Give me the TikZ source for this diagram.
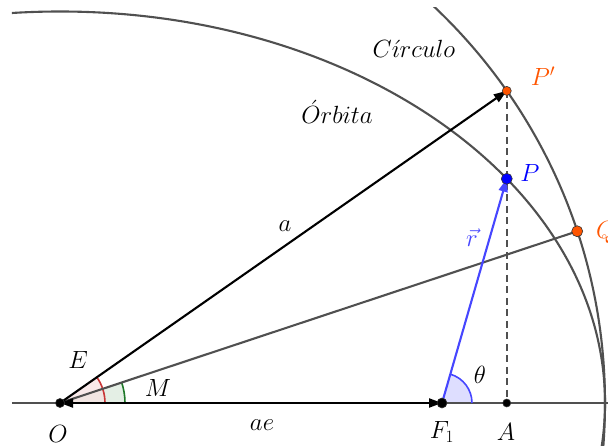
\documentclass[tikz,border=0pt]{standalone}
\usetikzlibrary{arrows.meta,calc}
\definecolor{dgray}{RGB}{80,80,80}
\definecolor{vblue}{RGB}{70,70,255}
\definecolor{orng}{RGB}{255,85,0}
\definecolor{ered}{RGB}{200,55,55}
\definecolor{mgreen}{RGB}{30,120,40}
\begin{document}
\begin{tikzpicture}[x=1pt,y=1pt,font=\fontsize{25}{29}\selectfont,
  curve/.style={draw=dgray,line width=2.1pt},
  axisline/.style={draw=dgray,line width=1.7pt},
  vecline/.style={line width=2.1pt,-{Triangle[length=13pt,width=9pt]}},
  pt/.style={circle,draw=black!80,line width=0.6pt,inner sep=0pt,minimum size=#1},
  pt/.default=8pt,
  lbl/.style={inner sep=1pt}]
\useasboundingbox (-60,-42) rectangle (548,403);
\coordinate (O) at (0,0);
\coordinate (F1) at (382,0);
\coordinate (Pp) at (34.94:545);
\coordinate (P) at ({545*cos(34.94)},{391.5*sin(34.94)});
\coordinate (Q) at (18.37:545);
\coordinate (A) at (Pp |- O);
\coordinate (L) at (-48,0);
\coordinate (R) at (548,0);
% angle fills
\fill[mgreen!15,opacity=0.8] (O) -- (65,0) arc[start angle=0,end angle=18.37,radius=65] -- cycle;
\fill[ered!15,opacity=0.7] (O) -- (45,0) arc[start angle=0,end angle=34.94,radius=45] -- cycle;
\fill[vblue!18] (F1) -- ++(30,0) arc[start angle=0,end angle=73.6,radius=30] -- cycle;
% curves
\begin{scope}
\clip (-48,-42) rectangle (548,395);
\draw[curve] (O) ellipse [x radius=545, y radius=391.5];
\draw[curve] (O) circle [radius=545];
\end{scope}
\draw[axisline] (L) -- (R);
% angle arcs
\draw[ered,line width=1.6pt] (45,0) arc[start angle=0,end angle=34.94,radius=45];
\draw[mgreen,line width=1.6pt] (65,0) arc[start angle=0,end angle=18.37,radius=65];
\draw[vblue,line width=1.6pt] ($(F1)+(30,0)$) arc[start angle=0,end angle=73.6,radius=30];
% lines
\draw[dgray,line width=1.9pt,dash pattern=on 7pt off 4.5pt] (Pp) -- (A);
\draw[dgray,line width=2.1pt] (O) -- (Q);
\draw[vecline,black] (O) -- (Pp);
\draw[line width=2.1pt,black,{Triangle[length=13pt,width=9pt]}-{Triangle[length=13pt,width=9pt]}] (O) -- (F1);
\draw[vecline,vblue] (F1) -- (P);
% points
\node[pt=9pt,fill=black] (nO) at (O) {};
\node[pt=10pt,fill=black] (nF) at (F1) {};
\node[pt=8pt,fill=black] (nA) at (A) {};
\node[pt=9pt,fill=orng] (nPp) at (Pp) {};
\node[pt=11pt,fill=blue] (nP) at (P) {};
\node[pt=11pt,fill=orng] (nQ) at (Q) {};
% labels
\node[lbl] (tE) at (18,43) {$E$};
\node[lbl] (tM) at (98,15) {$M$};
\node[lbl] (tO) at (-2,-31) {$O$};
\node[lbl] (tae) at (202,-22) {$ae$};
\node[lbl] (tF) at (382,-29) {$F_1$};
\node[lbl] (tA) at (446,-29) {$A$};
\node[lbl] (tth) at (420,28) {$\theta$};
\node[lbl] (ta) at (225,177) {$a$};
\node[lbl,text=vblue] (tr) at (412,165) {$\vec{r}$};
\node[lbl,text=orng] (tPp) at (483,327) {$P'$};
\node[lbl,text=blue] (tP) at (470,230) {$P$};
\node[lbl,text=orng,anchor=west] (tQ) at (535,171) {$Q$};
\node[lbl] (tC) at (354,354) {$C\acute{\imath}rculo$};
\node[lbl] (tOr) at (277,291) {$\acute{O}rbita$};
\end{tikzpicture}
\end{document}
